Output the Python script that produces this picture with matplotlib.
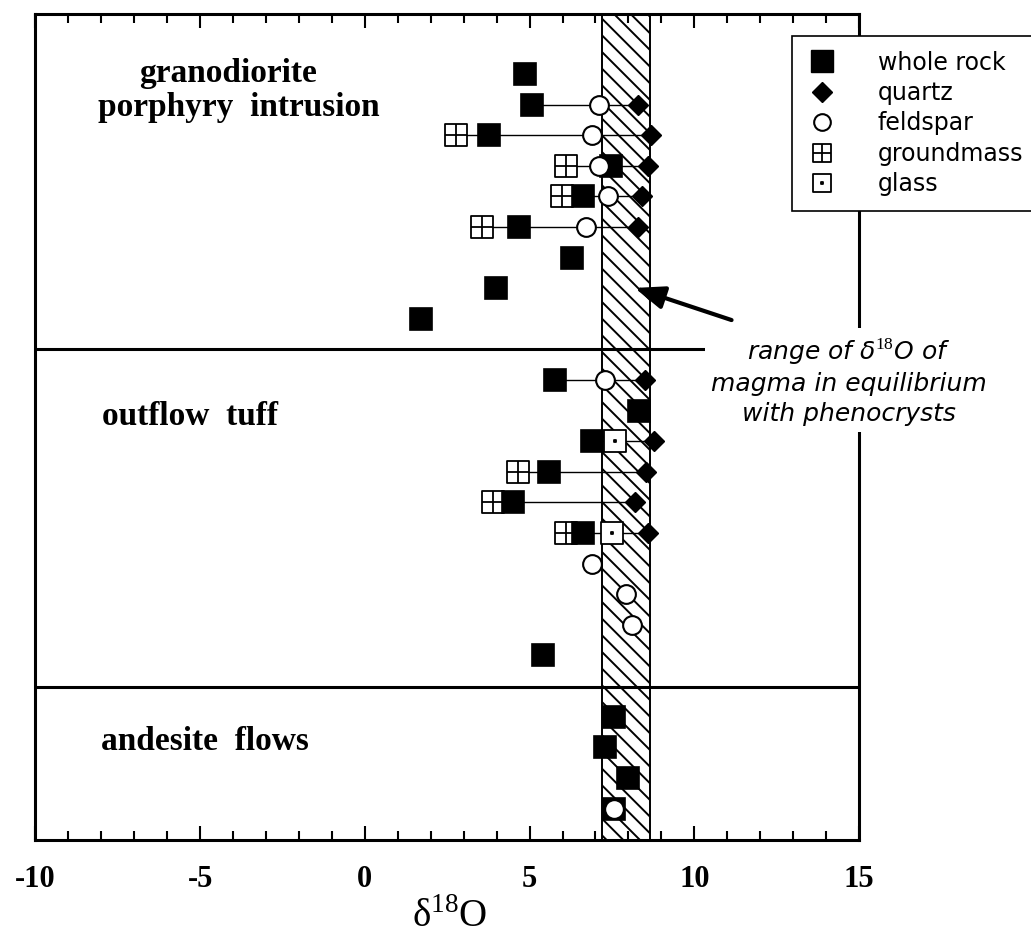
import numpy as np
import matplotlib.pyplot as plt
from matplotlib.path import Path
from matplotlib.lines import Line2D

plt.rcParams['axes.unicode_minus'] = False
plt.rcParams['mathtext.fontset'] = 'custom'
plt.rcParams['mathtext.rm'] = 'Liberation Serif'
plt.rcParams['mathtext.it'] = 'DejaVu Sans:italic'
plt.rcParams['hatch.linewidth'] = 1.4

# sample rows (0 = top of the column), d18O per mineral
wr_y = [0, 1, 2, 3, 4, 5, 6, 7, 8, 10, 11, 12, 13, 14, 15, 19, 21, 22, 23, 24]
wr_x = [4.87, 5.06, 3.76, 7.46, 6.61, 4.67, 6.28, 3.97, 1.70,
        5.76, 8.31, 6.88, 5.58, 4.49, 6.61, 5.40, 7.55, 7.28, 8.00, 7.55]

q_y = [1, 2, 3, 4, 5, 10, 12, 13, 14, 15]
q_x = [8.28, 8.70, 8.58, 8.40, 8.28, 8.49, 8.79, 8.52, 8.19, 8.58]

f_y = [1, 2, 3, 4, 5, 10, 16, 17, 18, 24]
f_x = [7.10, 6.88, 7.10, 7.37, 6.70, 7.28, 6.88, 7.92, 8.10, 7.55]

gm_y = [2, 3, 4, 5, 13, 14, 15]
gm_x = [2.76, 6.10, 5.97, 3.55, 4.64, 3.88, 6.10]

gl_y = [12, 15]
gl_x = [7.58, 7.49]

# equilibrium magma range
band = (7.2, 8.65)
unit_breaks = [9.0, 20.03]
unit_names = ['granodiorite', 'porphyry  intrusion', 'outflow  tuff', 'andesite  flows']

xticks_major = [-10, -5, 0, 5, 10, 15]

M, L, C = Path.MOVETO, Path.LINETO, Path.CLOSEPOLY
gm_marker = Path([(-1, -1), (1, -1), (1, 1), (-1, 1), (-1, -1),
                  (0, -1), (0, 1), (-1, 0), (1, 0)],
                 [M, L, L, L, C, M, L, M, L])
d = 0.06
glass_marker = Path([(-1, -1), (1, -1), (1, 1), (-1, 1), (-1, -1),
                     (-d, -d), (d, -d), (d, d), (-d, d), (-d, -d)],
                    [M, L, L, L, C, M, L, L, L, C])

fig = plt.figure(figsize=(10.31, 9.34), dpi=100)
ax = fig.add_axes([0.0344, 0.1006, 0.7988, 0.8844])

ax.axvspan(*band, facecolor='white', edgecolor='black', hatch='\\\\', lw=1.4, zorder=1)
for yb in unit_breaks:
    ax.axhline(yb, color='black', lw=2.2, zorder=1.5)

# tie lines between minerals of the same sample
rows = {}
for xs, ys in [(wr_x, wr_y), (q_x, q_y), (f_x, f_y), (gm_x, gm_y), (gl_x, gl_y)]:
    for x, y in zip(xs, ys):
        rows.setdefault(y, []).append(x)
for y, xs in rows.items():
    if len(xs) > 1:
        ax.plot([min(xs), max(xs)], [y, y], color='black', lw=1.0, zorder=2)

ax.plot(gm_x, gm_y, ls='none', marker=gm_marker, ms=15.5, mfc='white', mec='black', mew=1.3, zorder=3)
ax.plot(wr_x, wr_y, ls='none', marker='s', ms=15.5, mfc='black', mec='black', mew=1.2, zorder=4)
ax.plot(gl_x, gl_y, ls='none', marker=glass_marker, ms=15.5, mfc='white', mec='black', mew=1.3, zorder=5)
ax.plot(f_x, f_y, ls='none', marker='o', ms=13.5, mfc='white', mec='black', mew=1.5, zorder=5)
ax.plot(q_x, q_y, ls='none', marker='D', ms=10.5, mfc='black', mec='black', mew=1.0, zorder=6)

ax.set_xlim(-10, 15)
ax.set_ylim(25.03, -1.96)
ax.set_yticks([])
ax.set_xticks(xticks_major)
ax.set_xticks(np.arange(-10, 16, 1), minor=True)
ax.set_xticklabels([str(t) for t in xticks_major], fontfamily='Liberation Serif',
                   fontweight='bold', fontsize=22)
ax.tick_params(axis='x', which='both', direction='in', top=True, width=1.5, pad=18)
ax.tick_params(axis='x', which='major', length=10)
ax.tick_params(axis='x', which='minor', length=6.5)
for s in ax.spines.values():
    s.set_linewidth(2.2)

serif_bold = dict(fontfamily='Liberation Serif', fontweight='bold', fontsize=24)
ax.text(-4.16, 0.26, unit_names[0], ha='center', va='baseline', **serif_bold)
ax.text(-3.83, 1.37, unit_names[1], ha='center', va='baseline', **serif_bold)
ax.text(-5.3, 11.47, unit_names[2], ha='center', va='baseline', **serif_bold)
ax.text(-4.85, 22.1, unit_names[3], ha='center', va='baseline', **serif_bold)

ax.text(14.7, 10.03, 'range of δ$^{\\mathit{18}}$O of\nmagma in equilibrium\nwith phenocrysts',
        ha='center', va='center', fontfamily='DejaVu Sans', style='italic', fontsize=18,
        linespacing=1.3, clip_on=False, zorder=7,
        bbox=dict(boxstyle='square,pad=0.25', facecolor='white', edgecolor='none'))
ax.annotate('', xy=(8.19, 6.99), xytext=(11.13, 8.04),
            arrowprops=dict(arrowstyle='-|>,head_length=1.8,head_width=0.7',
                            lw=3, color='black', shrinkA=0, shrinkB=0), zorder=8)

fig.text(0.4365, 0.008, 'δ$^{18}$O', ha='center', va='baseline',
         fontfamily='Liberation Serif', fontsize=28)

handles = [
    Line2D([], [], ls='none', marker='s', ms=16, mfc='black', mec='black'),
    Line2D([], [], ls='none', marker='D', ms=10, mfc='black', mec='black'),
    Line2D([], [], ls='none', marker='o', ms=12, mfc='white', mec='black', mew=1.5),
    Line2D([], [], ls='none', marker=gm_marker, ms=12.5, mfc='white', mec='black', mew=1.3),
    Line2D([], [], ls='none', marker=glass_marker, ms=12.5, mfc='white', mec='black', mew=1.3),
]
labels = ['whole rock', 'quartz', 'feldspar', 'groundmass', 'glass']
leg = fig.legend(handles, labels, loc='upper left', bbox_to_anchor=(792 / 1031, 1 - 36 / 934),
                 borderaxespad=0, fancybox=False, framealpha=1, edgecolor='black',
                 prop={'family': 'DejaVu Sans', 'size': 17}, borderpad=0.62,
                 handlelength=1.3, handletextpad=1.71, labelspacing=0.27)
leg.get_frame().set_linewidth(1.2)
leg.set_zorder(10)

fig.savefig('out.png', dpi=100)
